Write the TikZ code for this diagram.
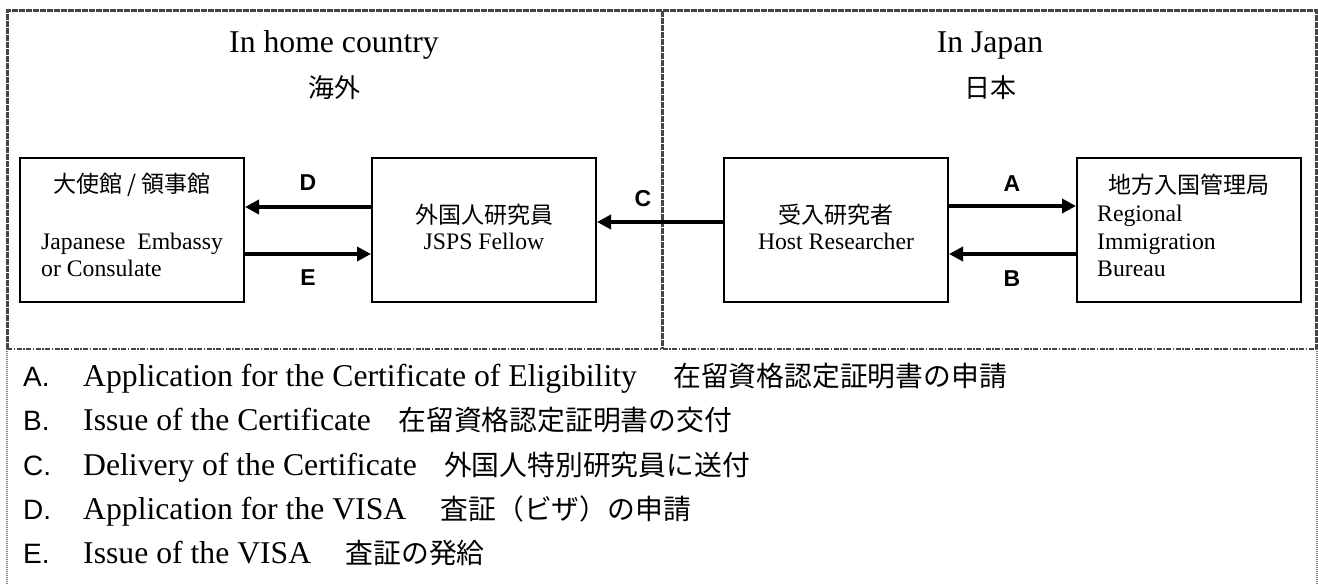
\documentclass[tikz,border=0pt]{standalone}
\usepackage{fontspec}
\setmainfont{Liberation Serif}
\newfontfamily\jp{Noto Sans CJK JP}
\newfontfamily\arial{Liberation Sans}
\usetikzlibrary{arrows.meta}
\definecolor{bordgray}{HTML}{454545}
\definecolor{dotgray}{HTML}{808080}
\begin{document}
\begin{tikzpicture}[x=1pt,y=-1pt,
  box/.style={draw, line width=2pt, minimum width=224pt, minimum height=144pt, inner sep=0pt},
  en/.style={font=\fontsize{23.7}{27}\selectfont, inner sep=0pt},
  jpb/.style={font=\jp\fontsize{23}{27}\selectfont, inner sep=0pt},
  lbl/.style={font=\arial\bfseries\fontsize{23}{27}\selectfont, inner sep=0pt},
  tit/.style={font=\fontsize{31.7}{36}\selectfont, inner sep=0pt, anchor=base},
  titjp/.style={font=\jp\fontsize{26}{30}\selectfont, inner sep=0pt},
  lletter/.style={font=\arial\fontsize{28}{32}\selectfont, inner sep=0pt, anchor=base west},
  lst/.style={font=\fontsize{31.7}{36}\selectfont, inner sep=0pt, anchor=base west},
  lstjp/.style={font=\jp\fontsize{27.8}{32}\selectfont, inner sep=0pt, anchor=base west},
  arr/.style={line width=3.5pt, -{Triangle[length=14pt,width=14pt]}},
  bord/.style={draw=bordgray, line width=3pt, dash pattern=on 6pt off 1pt},
  midline/.style={draw=bordgray, line width=2.4pt, dash pattern=on 5pt off 1.5pt on 1.5pt off 1.5pt},
  dotln/.style={draw=dotgray, line width=2pt, dash pattern=on 1pt off 1pt}
]
\useasboundingbox (0,0) rectangle (1318,585);
% frame
\draw[bord] (7,349) -- (7,11) -- (1316.5,11) -- (1316.5,349);
\draw[bord] (662,11) -- (662,349);
\draw[midline] (7,349) -- (1316.5,349);
\draw[dotln] (7,349) -- (7,585);
\draw[dotln] (1316.5,349) -- (1316.5,585);
% titles
\node[tit] (t1) at (334,53) {In home country};
\node[titjp] (t1j) at (334,88) {海外};
\node[tit] (t2) at (990,53) {In Japan};
\node[titjp] (t2j) at (990,88) {日本};
% boxes
\node[box] (emb) at (132,230) {};
\node[box] (fel) at (484,230) {};
\node[box] (host) at (836,230) {};
\node[box] (imm) at (1189,230) {};
% box texts
\node[jpb] (embj) at (132,185) {大使館 / 領事館};
\node[en, anchor=base west] (embe1) at (41,250) {Japanese\ \ Embassy};
\node[en, anchor=base west] (embe2) at (41,277) {or Consulate};
\node[jpb] (felj) at (484,215) {外国人研究員};
\node[en, anchor=base] (fele) at (484,250) {JSPS Fellow};
\node[jpb] (hostj) at (836,215) {受入研究者};
\node[en, anchor=base] (hoste) at (836,250) {Host Researcher};
\node[jpb] (immj) at (1188.5,185) {地方入国管理局};
\node[en, anchor=base west] (imme1) at (1097,222) {Regional};
\node[en, anchor=base west] (imme2) at (1097,250) {Immigration};
\node[en, anchor=base west] (imme3) at (1097,277) {Bureau};
% connectors
\draw[arr] ([yshift=23pt]fel.west) -- ([yshift=23pt]emb.east);
\draw[arr] ([yshift=-24pt]emb.east) -- ([yshift=-24pt]fel.west);
\draw[arr] ([yshift=8pt]host.west) -- ([yshift=8pt]fel.east);
\draw[arr] ([yshift=24pt]host.east) -- ([yshift=24pt]imm.west);
\draw[arr] ([yshift=-24pt]imm.west) -- ([yshift=-24pt]host.east);
% connector labels
\node[lbl] (lD) at (308,183) {D};
\node[lbl] (lE) at (308,278) {E};
\node[lbl] (lC) at (643,199) {C};
\node[lbl] (lA) at (1012,184) {A};
\node[lbl] (lB) at (1012,279) {B};
% list
\node[lletter] (kA) at (23,387) {A.};
\node[lst] (eA) at (83,387) {Application for the Certificate of Eligibility};
\node[lstjp] (jA) at ([xshift=36pt]eA.base east) {在留資格認定証明書の申請};
\node[lletter] (kB) at (23,431) {B.};
\node[lst] (eB) at (83,431) {Issue of the Certificate};
\node[lstjp] (jB) at ([xshift=27pt]eB.base east) {在留資格認定証明書の交付};
\node[lletter] (kC) at (23,475) {C.};
\node[lst] (eC) at (83,475) {Delivery of the Certificate};
\node[lstjp] (jC) at ([xshift=27pt]eC.base east) {外国人特別研究員に送付};
\node[lletter] (kD) at (23,519) {D.};
\node[lst] (eD) at (83,519) {Application for the VISA};
\node[lstjp] (jD) at ([xshift=34pt]eD.base east) {査証（ビザ）の申請};
\node[lletter] (kE) at (23,563) {E.};
\node[lst] (eE) at (83,563) {Issue of the VISA};
\node[lstjp] (jE) at ([xshift=34pt]eE.base east) {査証の発給};
\end{tikzpicture}
\end{document}
